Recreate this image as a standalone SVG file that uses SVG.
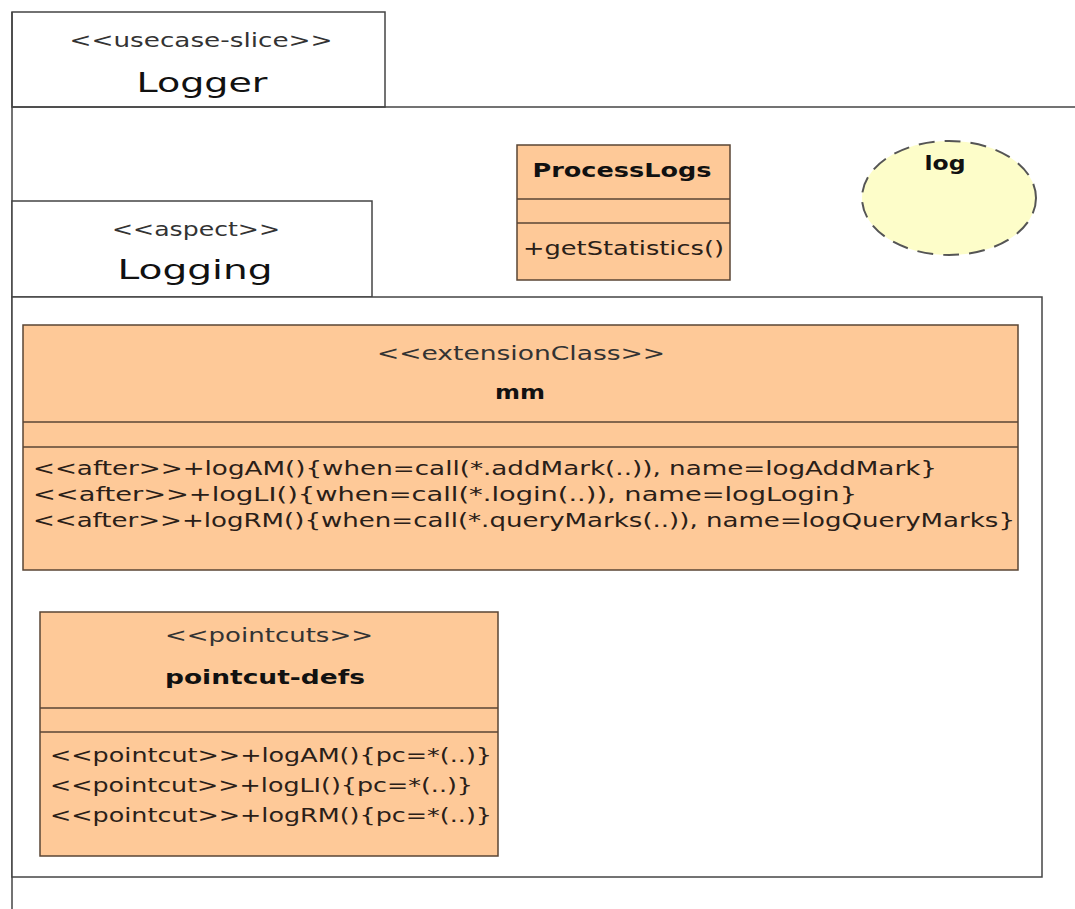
<svg xmlns="http://www.w3.org/2000/svg" width="1075" height="909" viewBox="0 0 1075 909">
<style>
.pkg{fill:#ffffff;stroke:#444;stroke-width:1.5}
.cls{fill:#fec998;stroke:#5a4535;stroke-width:1.5}
.div{stroke:#5a4535;stroke-width:1.5}
text{font-family:"DejaVu Sans","Liberation Sans",sans-serif;fill:#222}
.st{font-size:19px;fill:#333}
.pn{font-size:27px;fill:#111}
.nm{font-size:20px;font-weight:bold;fill:#111}
.mt{font-size:19px;fill:#2a2018}
</style>
<rect width="1075" height="909" fill="#ffffff"/>
<g id="Logger">
<rect class="pkg" x="12" y="12" width="373" height="95"/>
<line class="pkg" x1="12" y1="107" x2="1075" y2="107"/>
<line class="pkg" x1="12" y1="12" x2="12" y2="909"/>
<text class="st" x="201" y="47" text-anchor="middle" textLength="263" lengthAdjust="spacingAndGlyphs">&lt;&lt;usecase-slice&gt;&gt;</text>
<text class="pn" x="202" y="92" text-anchor="middle" textLength="131" lengthAdjust="spacingAndGlyphs">Logger</text>
</g>
<g id="Logging">
<rect class="pkg" x="12" y="201" width="360" height="96"/>
<rect class="pkg" x="12" y="297" width="1030" height="580"/>
<text class="st" x="196" y="236" text-anchor="middle" textLength="168" lengthAdjust="spacingAndGlyphs">&lt;&lt;aspect&gt;&gt;</text>
<text class="pn" x="195" y="279" text-anchor="middle" textLength="155" lengthAdjust="spacingAndGlyphs">Logging</text>
</g>
<g id="ProcessLogs">
<rect class="cls" x="517" y="145" width="213" height="135"/>
<line class="div" x1="517" y1="199" x2="730" y2="199"/>
<line class="div" x1="517" y1="223" x2="730" y2="223"/>
<text class="nm" x="622" y="177" text-anchor="middle" textLength="179" lengthAdjust="spacingAndGlyphs">ProcessLogs</text>
<text class="mt" x="523" y="255" textLength="201" lengthAdjust="spacingAndGlyphs">+getStatistics()</text>
</g>
<g id="log">
<ellipse cx="949" cy="198" rx="87" ry="57" fill="#fdfdc9" stroke="#555" stroke-width="2" stroke-dasharray="16,10"/>
<text class="nm" x="945" y="170" text-anchor="middle" textLength="41" lengthAdjust="spacingAndGlyphs">log</text>
</g>
<g id="mm">
<rect class="cls" x="23" y="325" width="995" height="245"/>
<line class="div" x1="23" y1="422" x2="1018" y2="422"/>
<line class="div" x1="23" y1="447" x2="1018" y2="447"/>
<text class="st" x="521" y="360" text-anchor="middle" textLength="288" lengthAdjust="spacingAndGlyphs">&lt;&lt;extensionClass&gt;&gt;</text>
<text class="nm" x="520" y="399" text-anchor="middle" textLength="50" lengthAdjust="spacingAndGlyphs">mm</text>
<text class="mt" x="33" y="475" textLength="904" lengthAdjust="spacingAndGlyphs">&lt;&lt;after&gt;&gt;+logAM(){when=call(*.addMark(..)), name=logAddMark}</text>
<text class="mt" x="33" y="501" textLength="824" lengthAdjust="spacingAndGlyphs">&lt;&lt;after&gt;&gt;+logLI(){when=call(*.login(..)), name=logLogin}</text>
<text class="mt" x="33" y="527" textLength="982" lengthAdjust="spacingAndGlyphs">&lt;&lt;after&gt;&gt;+logRM(){when=call(*.queryMarks(..)), name=logQueryMarks}</text>
</g>
<g id="pointcut-defs">
<rect class="cls" x="40" y="612" width="458" height="244"/>
<line class="div" x1="40" y1="708" x2="498" y2="708"/>
<line class="div" x1="40" y1="732" x2="498" y2="732"/>
<text class="st" x="269" y="642" text-anchor="middle" textLength="208" lengthAdjust="spacingAndGlyphs">&lt;&lt;pointcuts&gt;&gt;</text>
<text class="nm" x="265" y="684" text-anchor="middle" textLength="200" lengthAdjust="spacingAndGlyphs">pointcut-defs</text>
<text class="mt" x="50" y="762" textLength="442" lengthAdjust="spacingAndGlyphs">&lt;&lt;pointcut&gt;&gt;+logAM(){pc=*(..)}</text>
<text class="mt" x="50" y="792" textLength="423" lengthAdjust="spacingAndGlyphs">&lt;&lt;pointcut&gt;&gt;+logLI(){pc=*(..)}</text>
<text class="mt" x="50" y="822" textLength="442" lengthAdjust="spacingAndGlyphs">&lt;&lt;pointcut&gt;&gt;+logRM(){pc=*(..)}</text>
</g>
<g id="connectors"></g>
</svg>
